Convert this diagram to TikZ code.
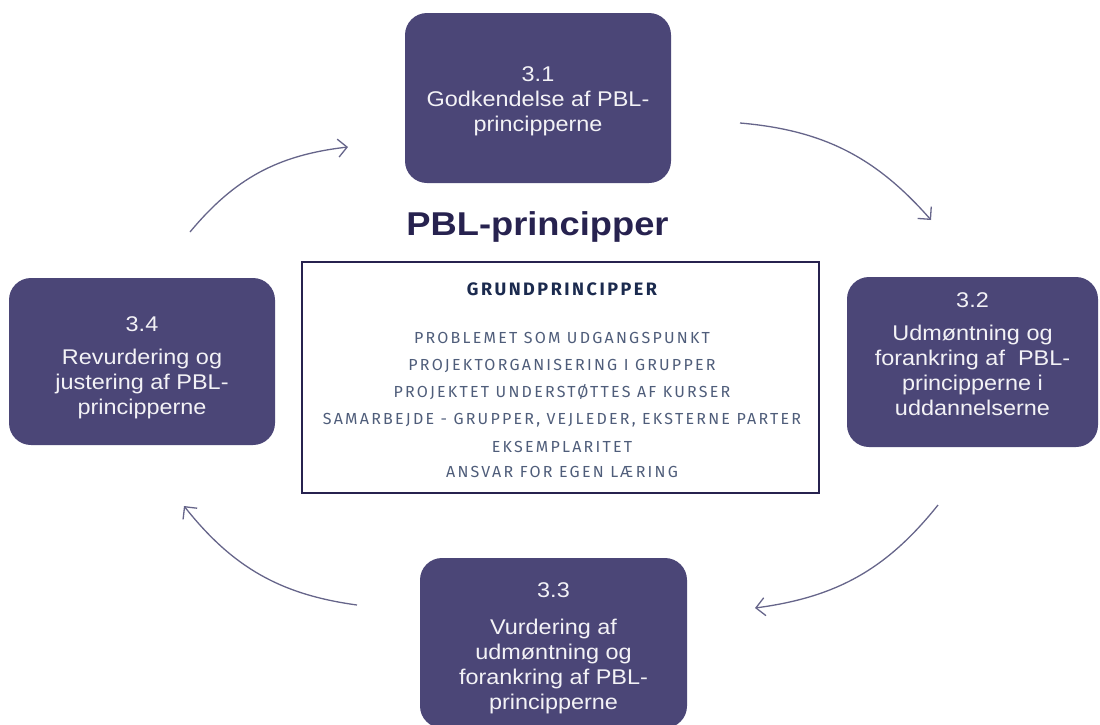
\documentclass[tikz,border=0pt]{standalone}
\usepackage{fontspec}
\setmainfont{Liberation Sans}
\newfontfamily\boxfont[FakeStretch=1.1]{Liberation Sans}
\newfontfamily\titlefont[FakeStretch=1.1]{Liberation Sans}
\newfontfamily\dinfont[LetterSpace=14]{Fira Sans}
\usetikzlibrary{arrows.meta,bending}
\definecolor{boxpurple}{HTML}{4B4677}
\definecolor{navy}{HTML}{27224F}
\definecolor{arrowgray}{HTML}{66658A}
\definecolor{itemblue}{HTML}{4F5D7A}
\definecolor{headnavy}{HTML}{1B2A4E}
\newcommand{\padtop}[1]{\rule{0pt}{#1}}
\newcommand{\padbot}[1]{\rule[-#1]{0pt}{#1}}
\tikzset{
  phase/.style={fill=boxpurple, rounded corners=22pt, inner sep=0pt, align=center,
    text=white!93!boxpurple, font=\boxfont\fontsize{21.3}{25}\selectfont},
  cyc/.style={draw=arrowgray, line width=1.3pt, -{Straight Barb[length=9pt,width=18pt,line width=1.3pt]}, bend left=22},
  item/.style={anchor=base, text=itemblue, font=\dinfont\fontsize{16}{19}\selectfont},
  head/.style={anchor=base, text=headnavy, font=\dinfont\bfseries\fontsize{18}{21}\selectfont}
}
\begin{document}
\begin{tikzpicture}[x=1pt,y=-1pt]
\useasboundingbox (0,0) rectangle (1100,724);
\clip (0,0) rectangle (1100,724);
\node[phase, minimum width=266pt, minimum height=170pt] (p1) at (538,98) {\padtop{21pt}3.1\\Godkendelse af PBL-\\principperne};
\node[phase, minimum width=251pt, minimum height=170pt] (p2) at (972.5,362) {3.2\\[8pt]Udmøntning og\\forankring af\ \ PBL-\\principperne i\\uddannelserne\padbot{16pt}};
\node[phase, minimum width=267pt, minimum height=170pt] (p3) at (553.5,643) {\padtop{26pt}3.3\\[12pt]Vurdering af\\udmøntning og\\forankring af PBL-\\principperne};
\node[phase, minimum width=266pt, minimum height=167pt] (p4) at (142,361.5) {\padtop{28pt}3.4\\[8pt]Revurdering og\\justering af PBL-\\principperne};

\node[anchor=base, text=navy, font=\titlefont\bfseries\fontsize{33}{37}\selectfont] (title) at (537.5,235) {PBL-principper};
\node[draw=navy, line width=2.5pt, minimum width=517pt, minimum height=231pt, inner sep=0pt] (frame) at (560.5,377.5) {};
\node[head] (h) at (562,295) {GRUNDPRINCIPPER};
\node[item] (i1) at (562,343) {PROBLEMET SOM UDGANGSPUNKT};
\node[item] (i2) at (562,370) {PROJEKTORGANISERING I GRUPPER};
\node[item] (i3) at (562,397) {PROJEKTET UNDERSTØTTES AF KURSER};
\node[item] (i4) at (562,424) {SAMARBEJDE - GRUPPER, VEJLEDER, EKSTERNE PARTER};
\node[item] (i5) at (562,452) {EKSEMPLARITET};
\node[item] (i6) at (562,477) {ANSVAR FOR EGEN LÆRING};

\coordinate (a1s) at (740,123);
\coordinate (a1e) at (931,220);
\coordinate (a2s) at (938,505);
\coordinate (a2e) at (755,608);
\coordinate (a3s) at (357,605);
\coordinate (a3e) at (184,506);
\coordinate (a4s) at (190,232);
\coordinate (a4e) at (348,147);
\draw[cyc] (a1s) to (a1e);
\draw[cyc] (a2s) to (a2e);
\draw[cyc] (a3s) to (a3e);
\draw[cyc] (a4s) to (a4e);
\end{tikzpicture}
\end{document}
